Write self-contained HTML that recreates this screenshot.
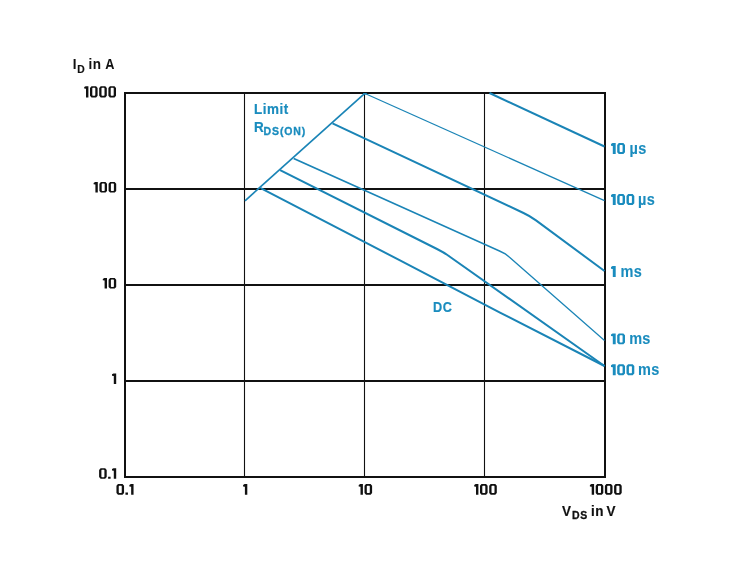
<!DOCTYPE html>
<html><head><meta charset="utf-8">
<style>
html,body{margin:0;padding:0;background:#fff;width:732px;height:578px;overflow:hidden}
svg{position:absolute;left:0;top:0;will-change:transform}
text{font-family:"Liberation Sans",sans-serif;font-weight:bold}
</style></head><body>
<svg width="732" height="578" viewBox="0 0 732 578">
<g stroke="#111" fill="none">
<line x1="244.5" y1="93" x2="244.5" y2="477" stroke-width="1.1"/>
<line x1="364.5" y1="93" x2="364.5" y2="477" stroke-width="1.1"/>
<line x1="484.5" y1="93" x2="484.5" y2="477" stroke-width="1.1"/>
<line x1="125" y1="189" x2="605" y2="189" stroke-width="2"/>
<line x1="125" y1="285" x2="605" y2="285" stroke-width="2"/>
<line x1="125" y1="381" x2="605" y2="381" stroke-width="2"/>
<rect x="125" y="93" width="480" height="384" stroke-width="2"/>
</g>
<g stroke="#1a84b6" fill="none" stroke-linejoin="round" stroke-linecap="butt">
<path d="M245,200.8 L364.5,93.6" stroke-width="1.7"/>
<path d="M489.5,93 L604.5,146.5" stroke-width="2"/>
<path d="M365,93.5 L604.5,200.6" stroke-width="1.25"/>
<path d="M332.5,123.4 L523.5,213 Q530,216 536,220.4 L604.5,271" stroke-width="2"/>
<path d="M280.1,170.2 L437,249 Q443.5,252.2 449.5,256.5 L604.5,366" stroke-width="2"/>
<path d="M260.7,188.1 L400,260.4 L500,312.6 L604.5,366" stroke-width="2"/>
</g>
<rect x="363.2" y="93.1" width="3.6" height="1.5" fill="#1a84b6"/>
<path fill="#1a84b6" stroke="none" d="M293.31,159.37 L399.67,207.03 L499.21,251.64 L504.93,254.39 L509.06,257.81 L604.1,340.95 L604.9,340.05 L509.94,256.79 L505.67,253.21 L499.79,250.36 L400.33,205.57 L294.09,157.63Z"/>
<path fill="#111" fill-rule="evenodd" d="M86,86.2 L88.4,86.2 L88.4,97.4 L86,97.4 L86,88.8 L84.2,88.5 L84.2,87.1 L85.7,86.2Z M91.5,86.2 L96.1,86.2 L97.6,87.9 L97.6,95.7 L96.1,97.4 L91.5,97.4 L90,95.7 L90,87.9Z M92.8,87.8 L94.8,87.8 L95.3,88.3 L95.3,95.3 L94.8,95.8 L92.8,95.8 L92.3,95.3 L92.3,88.3Z M100.7,86.2 L105.3,86.2 L106.8,87.9 L106.8,95.7 L105.3,97.4 L100.7,97.4 L99.2,95.7 L99.2,87.9Z M102,87.8 L104,87.8 L104.5,88.3 L104.5,95.3 L104,95.8 L102,95.8 L101.5,95.3 L101.5,88.3Z M109.9,86.2 L114.5,86.2 L116,87.9 L116,95.7 L114.5,97.4 L109.9,97.4 L108.4,95.7 L108.4,87.9Z M111.2,87.8 L113.2,87.8 L113.7,88.3 L113.7,95.3 L113.2,95.8 L111.2,95.8 L110.7,95.3 L110.7,88.3Z"/>
<path fill="#111" fill-rule="evenodd" d="M95.4,182 L97.8,182 L97.8,192.6 L95.4,192.6 L95.4,184.6 L93.6,184.3 L93.6,182.9 L95.1,182Z M100.9,182 L105.5,182 L107,183.7 L107,190.9 L105.5,192.6 L100.9,192.6 L99.4,190.9 L99.4,183.7Z M102.2,183.6 L104.2,183.6 L104.7,184.1 L104.7,190.5 L104.2,191 L102.2,191 L101.7,190.5 L101.7,184.1Z M110.1,182 L114.7,182 L116.2,183.7 L116.2,190.9 L114.7,192.6 L110.1,192.6 L108.6,190.9 L108.6,183.7Z M111.4,183.6 L113.4,183.6 L113.9,184.1 L113.9,190.5 L113.4,191 L111.4,191 L110.9,190.5 L110.9,184.1Z"/>
<path fill="#111" fill-rule="evenodd" d="M104.6,278 L107,278 L107,288.6 L104.6,288.6 L104.6,280.6 L102.8,280.3 L102.8,278.9 L104.3,278Z M110.1,278 L114.7,278 L116.2,279.7 L116.2,286.9 L114.7,288.6 L110.1,288.6 L108.6,286.9 L108.6,279.7Z M111.4,279.6 L113.4,279.6 L113.9,280.1 L113.9,286.5 L113.4,287 L111.4,287 L110.9,286.5 L110.9,280.1Z"/>
<path fill="#111" fill-rule="evenodd" d="M113.8,373.4 L116.2,373.4 L116.2,384 L113.8,384 L113.8,376 L112,375.7 L112,374.3 L113.5,373.4Z"/>
<path fill="#111" fill-rule="evenodd" d="M100.6,468.2 L105.2,468.2 L106.7,469.9 L106.7,477.1 L105.2,478.8 L100.6,478.8 L99.1,477.1 L99.1,469.9Z M101.9,469.8 L103.9,469.8 L104.4,470.3 L104.4,476.7 L103.9,477.2 L101.9,477.2 L101.4,476.7 L101.4,470.3Z M108.1,476.7 h2.5 v2.1 h-2.5Z M113.8,468.2 L116.2,468.2 L116.2,478.8 L113.8,478.8 L113.8,470.8 L112,470.5 L112,469.1 L113.5,468.2Z"/>
<path fill="#111" fill-rule="evenodd" d="M117.95,484.1 L122.55,484.1 L124.05,485.8 L124.05,493 L122.55,494.7 L117.95,494.7 L116.45,493 L116.45,485.8Z M119.25,485.7 L121.25,485.7 L121.75,486.2 L121.75,492.6 L121.25,493.1 L119.25,493.1 L118.75,492.6 L118.75,486.2Z M125.45,492.6 h2.5 v2.1 h-2.5Z M131.15,484.1 L133.55,484.1 L133.55,494.7 L131.15,494.7 L131.15,486.7 L129.35,486.4 L129.35,485 L130.85,484.1Z"/>
<path fill="#111" fill-rule="evenodd" d="M244.9,484.1 L247.3,484.1 L247.3,494.7 L244.9,494.7 L244.9,486.7 L243.1,486.4 L243.1,485 L244.6,484.1Z"/>
<path fill="#111" fill-rule="evenodd" d="M360.5,484.1 L362.9,484.1 L362.9,494.7 L360.5,494.7 L360.5,486.7 L358.7,486.4 L358.7,485 L360.2,484.1Z M366,484.1 L370.6,484.1 L372.1,485.8 L372.1,493 L370.6,494.7 L366,494.7 L364.5,493 L364.5,485.8Z M367.3,485.7 L369.3,485.7 L369.8,486.2 L369.8,492.6 L369.3,493.1 L367.3,493.1 L366.8,492.6 L366.8,486.2Z"/>
<path fill="#111" fill-rule="evenodd" d="M476,484.1 L478.4,484.1 L478.4,494.7 L476,494.7 L476,486.7 L474.2,486.4 L474.2,485 L475.7,484.1Z M481.5,484.1 L486.1,484.1 L487.6,485.8 L487.6,493 L486.1,494.7 L481.5,494.7 L480,493 L480,485.8Z M482.8,485.7 L484.8,485.7 L485.3,486.2 L485.3,492.6 L484.8,493.1 L482.8,493.1 L482.3,492.6 L482.3,486.2Z M490.7,484.1 L495.3,484.1 L496.8,485.8 L496.8,493 L495.3,494.7 L490.7,494.7 L489.2,493 L489.2,485.8Z M492,485.7 L494,485.7 L494.5,486.2 L494.5,492.6 L494,493.1 L492,493.1 L491.5,492.6 L491.5,486.2Z"/>
<path fill="#111" fill-rule="evenodd" d="M591.7,484.1 L594.1,484.1 L594.1,494.7 L591.7,494.7 L591.7,486.7 L589.9,486.4 L589.9,485 L591.4,484.1Z M597.2,484.1 L601.8,484.1 L603.3,485.8 L603.3,493 L601.8,494.7 L597.2,494.7 L595.7,493 L595.7,485.8Z M598.5,485.7 L600.5,485.7 L601,486.2 L601,492.6 L600.5,493.1 L598.5,493.1 L598,492.6 L598,486.2Z M606.4,484.1 L611,484.1 L612.5,485.8 L612.5,493 L611,494.7 L606.4,494.7 L604.9,493 L604.9,485.8Z M607.7,485.7 L609.7,485.7 L610.2,486.2 L610.2,492.6 L609.7,493.1 L607.7,493.1 L607.2,492.6 L607.2,486.2Z M615.6,484.1 L620.2,484.1 L621.7,485.8 L621.7,493 L620.2,494.7 L615.6,494.7 L614.1,493 L614.1,485.8Z M616.9,485.7 L618.9,485.7 L619.4,486.2 L619.4,492.6 L618.9,493.1 L616.9,493.1 L616.4,492.6 L616.4,486.2Z"/>
<text transform="translate(72.7,68.6) scale(0.87,1)" text-anchor="start" font-size="15.5" letter-spacing="0.2" fill="#111" stroke="#111" stroke-width="0.05">I</text>
<text transform="translate(77.2,72.7) scale(1,1)" text-anchor="start" font-size="10.3" letter-spacing="0.5" fill="#111" stroke="#111" stroke-width="0.2">D</text>
<text transform="translate(88.5,68.6) scale(0.87,1)" text-anchor="start" font-size="15.5" letter-spacing="0.5" fill="#111" stroke="#111" stroke-width="0.05">in</text>
<text transform="translate(105.2,68.6) scale(0.82,1)" text-anchor="start" font-size="15.5" letter-spacing="0.2" fill="#111" stroke="#111" stroke-width="0.05">A</text>
<text transform="translate(562,515.8) scale(0.87,1)" text-anchor="start" font-size="15.5" letter-spacing="0.2" fill="#111" stroke="#111" stroke-width="0.2">V</text>
<text transform="translate(572,519.3) scale(1,1)" text-anchor="start" font-size="10.5" letter-spacing="0.6" fill="#111" stroke="#111" stroke-width="0.3">DS</text>
<text transform="translate(591,515.8) scale(0.87,1)" text-anchor="start" font-size="15.5" letter-spacing="0.5" fill="#111" stroke="#111" stroke-width="0.2">in</text>
<text transform="translate(606.5,515.8) scale(0.87,1)" text-anchor="start" font-size="15.5" letter-spacing="0.2" fill="#111" stroke="#111" stroke-width="0.2">V</text>
<text transform="translate(254,113.6) scale(0.87,1)" text-anchor="start" font-size="15.5" letter-spacing="0.6" fill="#1a8cbe" stroke="#1a8cbe" stroke-width="0.2">Limit</text>
<text transform="translate(254,131.8) scale(0.87,1)" text-anchor="start" font-size="15.5" letter-spacing="0.2" fill="#1a8cbe" stroke="#1a8cbe" stroke-width="0.2">R</text>
<text transform="translate(263.5,135.4) scale(1,1)" text-anchor="start" font-size="10.5" letter-spacing="0.9" fill="#1a8cbe" stroke="#1a8cbe" stroke-width="0.3">DS(ON)</text>
<path fill="#1a8cbe" fill-rule="evenodd" d="M612.8,143.1 L615.7,143.1 L615.7,154 L612.8,154 L612.8,146 L611,145.7 L611,144.1 L612.5,143.1Z M618.8,143.1 L623.4,143.1 L625,144.9 L625,152.2 L623.4,154 L618.8,154 L617.2,152.2 L617.2,144.9Z M620.1,145 L622.1,145 L622.6,145.5 L622.6,151.6 L622.1,152.1 L620.1,152.1 L619.6,151.6 L619.6,145.5Z"/>
<text transform="translate(629.5,154) scale(0.93,1)" text-anchor="start" font-size="15.6" letter-spacing="0.3" fill="#1a8cbe" stroke="#1a8cbe" stroke-width="0.1">µs</text>
<path fill="#1a8cbe" fill-rule="evenodd" d="M612.8,194.1 L615.7,194.1 L615.7,205 L612.8,205 L612.8,197 L611,196.7 L611,195.1 L612.5,194.1Z M618.8,194.1 L623.4,194.1 L625,195.9 L625,203.2 L623.4,205 L618.8,205 L617.2,203.2 L617.2,195.9Z M620.1,196 L622.1,196 L622.6,196.5 L622.6,202.6 L622.1,203.1 L620.1,203.1 L619.6,202.6 L619.6,196.5Z M628.1,194.1 L632.7,194.1 L634.3,195.9 L634.3,203.2 L632.7,205 L628.1,205 L626.5,203.2 L626.5,195.9Z M629.4,196 L631.4,196 L631.9,196.5 L631.9,202.6 L631.4,203.1 L629.4,203.1 L628.9,202.6 L628.9,196.5Z"/>
<text transform="translate(638,205) scale(0.93,1)" text-anchor="start" font-size="15.6" letter-spacing="0.3" fill="#1a8cbe" stroke="#1a8cbe" stroke-width="0.1">µs</text>
<path fill="#1a8cbe" fill-rule="evenodd" d="M612.8,266.1 L615.7,266.1 L615.7,277 L612.8,277 L612.8,269 L611,268.7 L611,267.1 L612.5,266.1Z"/>
<text transform="translate(620.5,277) scale(0.93,1)" text-anchor="start" font-size="15.6" letter-spacing="0.3" fill="#1a8cbe" stroke="#1a8cbe" stroke-width="0.1">ms</text>
<path fill="#1a8cbe" fill-rule="evenodd" d="M612.8,333.4 L615.7,333.4 L615.7,344.3 L612.8,344.3 L612.8,336.3 L611,336 L611,334.4 L612.5,333.4Z M618.8,333.4 L623.4,333.4 L625,335.2 L625,342.5 L623.4,344.3 L618.8,344.3 L617.2,342.5 L617.2,335.2Z M620.1,335.3 L622.1,335.3 L622.6,335.8 L622.6,341.9 L622.1,342.4 L620.1,342.4 L619.6,341.9 L619.6,335.8Z"/>
<text transform="translate(629.2,344.3) scale(0.93,1)" text-anchor="start" font-size="15.6" letter-spacing="0.3" fill="#1a8cbe" stroke="#1a8cbe" stroke-width="0.1">ms</text>
<path fill="#1a8cbe" fill-rule="evenodd" d="M612.8,364.3 L615.7,364.3 L615.7,375.2 L612.8,375.2 L612.8,367.2 L611,366.9 L611,365.3 L612.5,364.3Z M618.8,364.3 L623.4,364.3 L625,366.1 L625,373.4 L623.4,375.2 L618.8,375.2 L617.2,373.4 L617.2,366.1Z M620.1,366.2 L622.1,366.2 L622.6,366.7 L622.6,372.8 L622.1,373.3 L620.1,373.3 L619.6,372.8 L619.6,366.7Z M628.1,364.3 L632.7,364.3 L634.3,366.1 L634.3,373.4 L632.7,375.2 L628.1,375.2 L626.5,373.4 L626.5,366.1Z M629.4,366.2 L631.4,366.2 L631.9,366.7 L631.9,372.8 L631.4,373.3 L629.4,373.3 L628.9,372.8 L628.9,366.7Z"/>
<text transform="translate(638,375.2) scale(0.93,1)" text-anchor="start" font-size="15.6" letter-spacing="0.3" fill="#1a8cbe" stroke="#1a8cbe" stroke-width="0.1">ms</text>
<text transform="translate(433,311.6) scale(0.82,1)" text-anchor="start" font-size="15.5" letter-spacing="0.8" fill="#1a8cbe" stroke="#1a8cbe" stroke-width="0.2">DC</text>
</svg>
</body></html>
